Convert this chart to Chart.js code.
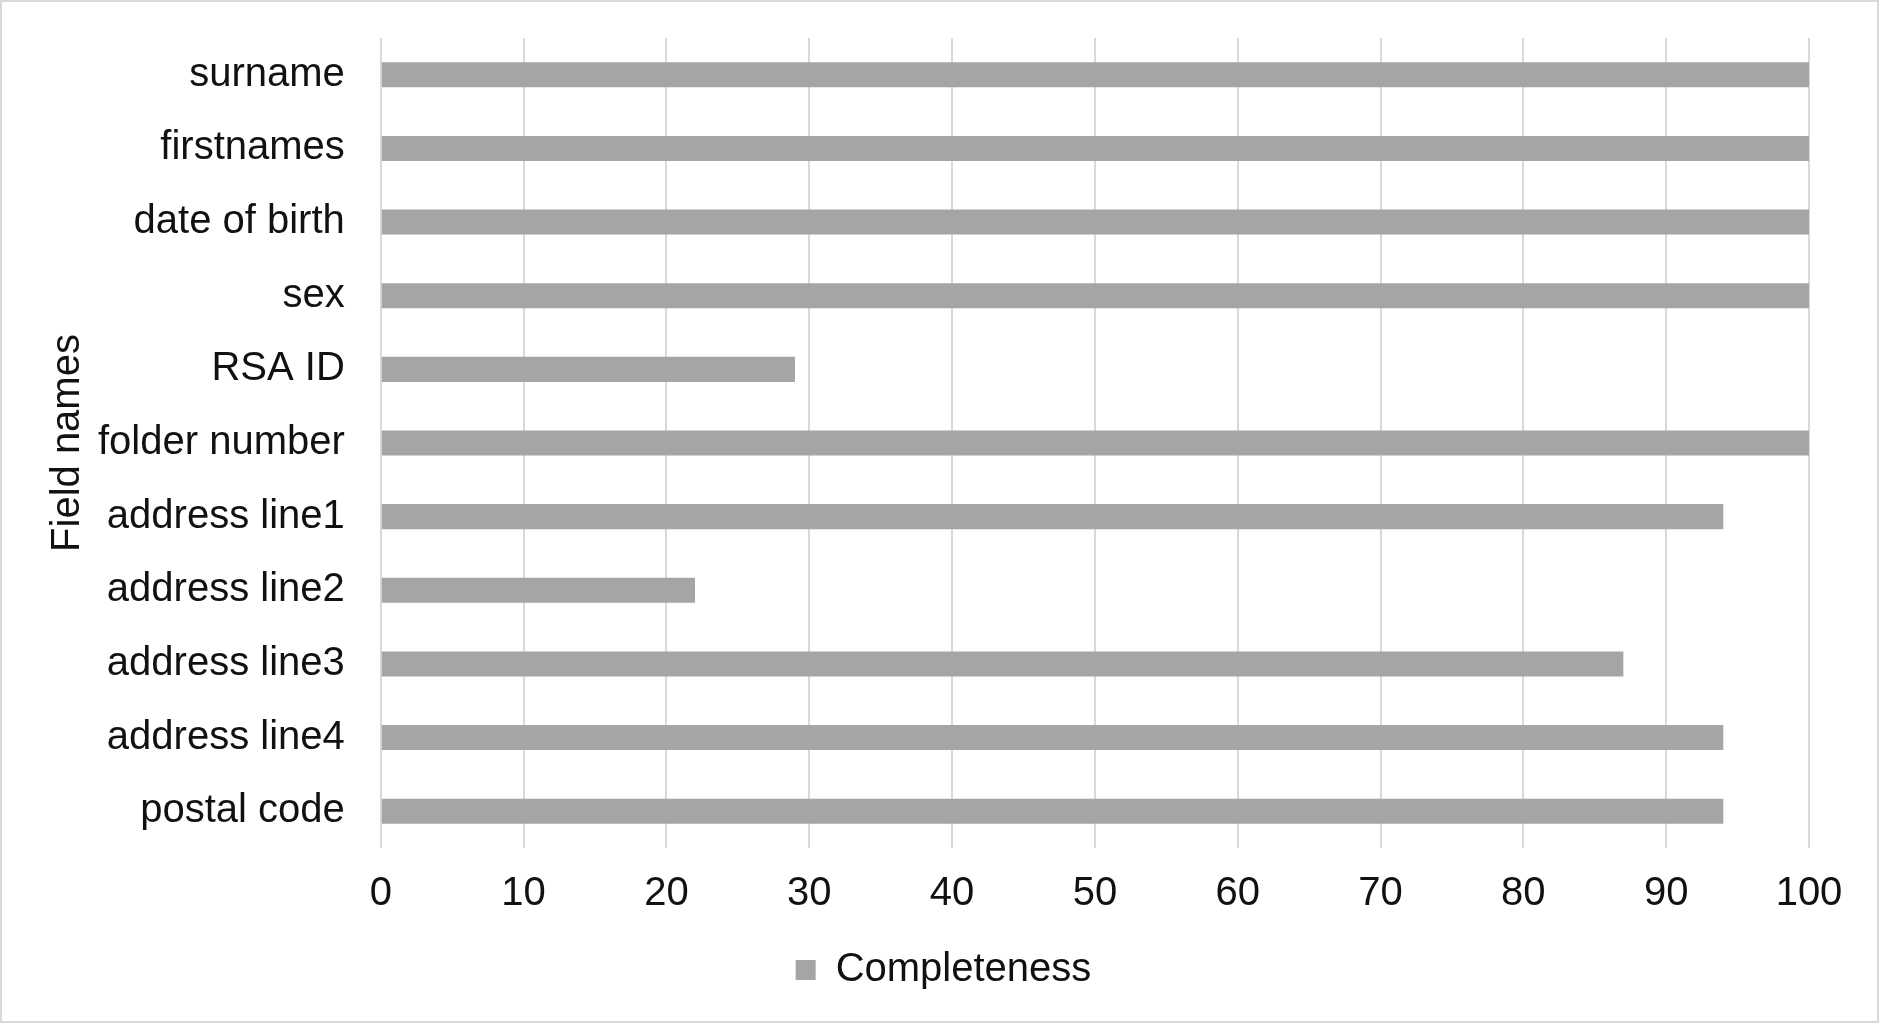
<!DOCTYPE html>
<html>
<head>
<meta charset="utf-8">
<script src="https://cdn.jsdelivr.net/npm/chart.js@4"></script>
<style>
  html, body { margin: 0; padding: 0; background: #fff; }
  #wrap { width: 1879px; height: 1023px; box-sizing: border-box; border: 2px solid #d9d9d9; position: relative; background: #fff; }
  #c { display: block; }
</style>
</head>
<body>
<div id="wrap"><canvas id="c" width="1875" height="1019"></canvas></div>
<script>
const categories = ["surname", "firstnames", "date of birth", "sex", "RSA ID", "folder number", "address line1", "address line2", "address line3", "address line4", "postal code"];
const completeness = [100, 100, 100, 100, 29, 100, 94, 22, 87, 94, 94];
const seriesName = "Completeness";
const axisTitleY = "Field names";
const xMin = 0, xMax = 100, xStep = 10;

const FONT = "'Liberation Sans', Arial, sans-serif";
const TEXT = "#111111";

const legendShift = {
  id: 'legendShift',
  afterLayout(chart) {
    if (chart.legend) { chart.legend.left += 17; chart.legend.right += 17; }
  }
};

new Chart(document.getElementById('c'), {
  type: 'bar',
  data: {
    labels: categories,
    datasets: [{
      label: seriesName,
      data: completeness,
      backgroundColor: '#a5a5a5',
      borderWidth: 0,
      categoryPercentage: 1,
      barPercentage: 0.34
    }]
  },
  plugins: [legendShift],
  options: {
    indexAxis: 'y',
    responsive: false,
    animation: false,
    devicePixelRatio: 1,
    layout: { padding: { top: 36, right: 68, bottom: 21, left: 42 } },
    plugins: {
      legend: {
        position: 'bottom',
        labels: {
          font: { family: FONT, size: 40 },
          color: TEXT,
          boxWidth: 20, boxHeight: 20,
          padding: 10
        }
      },
      tooltip: { enabled: false }
    },
    scales: {
      x: {
        min: xMin, max: xMax,
        ticks: { stepSize: xStep, font: { family: FONT, size: 40 }, color: TEXT, padding: 22 },
        grid: { color: '#d9d9d9', lineWidth: 2, drawTicks: false },
        border: { display: false }
      },
      y: {
        ticks: { font: { family: FONT, size: 40 }, color: TEXT, padding: 36 },
        grid: { display: false, drawTicks: false },
        border: { display: false },
        title: { display: true, text: axisTitleY, font: { family: FONT, size: 40 }, color: TEXT, padding: { top: 0, bottom: -30 } },
        afterFit: function (scale) { scale.paddingTop = 0; scale.paddingBottom = 0; }
      }
    }
  }
});
</script>
</body>
</html>
